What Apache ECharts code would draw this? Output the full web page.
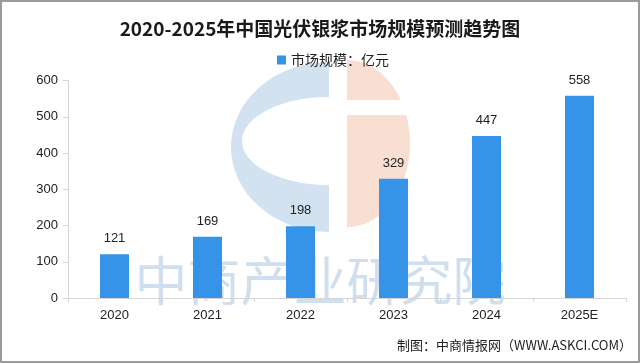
<!DOCTYPE html>
<html>
<head>
<meta charset="utf-8">
<script src="https://cdn.jsdelivr.net/npm/echarts@6/dist/echarts.min.js"></script>
<style>
html,body{margin:0;padding:0;background:#fff;}
#chart{width:640px;height:363px;}
</style>
</head>
<body>
<div id="chart"></div>
<script>
var titleText = '2020-2025年中国光伏银浆市场规模预测趋势图';
var seriesName = '市场规模：亿元';
var categories = ['2020', '2021', '2022', '2023', '2024', '2025E'];
var marketSize = [121, 169, 198, 329, 447, 558];
var yTicks = [0, 100, 200, 300, 400, 500, 600];
var watermarkText = '中商产业研究院';
var sourceText = '制图：中商情报网（WWW.ASKCI.COM）';

var chart = echarts.init(document.getElementById('chart'), null, {renderer: 'canvas'});
var FONT = '"Liberation Sans", "Noto Sans CJK SC", sans-serif';
var CJK = '"Noto Sans CJK SC", sans-serif';
var logoBlue = '#d3e2f0';
var logoOrange = '#f8dfd1';
var PI = Math.PI;

var option = {
  backgroundColor: '#ffffff',
  animation: false,
  title: {
    text: titleText,
    left: 'center',
    top: 14,
    textStyle: {fontFamily: CJK, fontSize: 19, fontWeight: 'bold', color: '#1a1a1a'}
  },
  legend: {
    data: [seriesName],
    left: 272,
    top: 48,
    icon: 'rect',
    itemWidth: 9,
    itemHeight: 9,
    itemGap: 10,
    textStyle: {fontFamily: CJK, fontSize: 14, color: '#222'}
  },
  grid: {left: 68, right: 14, top: 80.5, bottom: 65, containLabel: false},
  xAxis: {
    type: 'category',
    data: categories,
    axisLine: {lineStyle: {color: '#d6d6d6', width: 1}},
    axisTick: {show: true, alignWithLabel: false, length: 4, lineStyle: {color: '#d6d6d6'}},
    axisLabel: {fontFamily: FONT, fontSize: 13, color: '#222', margin: 11}
  },
  yAxis: {
    type: 'value',
    min: yTicks[0],
    max: yTicks[yTicks.length - 1],
    interval: 100,
    axisLine: {show: true, lineStyle: {color: '#d6d6d6', width: 1}},
    axisTick: {show: true, length: 5, lineStyle: {color: '#d6d6d6'}},
    splitLine: {show: false},
    axisLabel: {fontFamily: FONT, fontSize: 13, color: '#222', margin: 10}
  },
  graphic: [
    {type: 'sector', z: -10, position: [329, 147], scaleY: 85 / 98,
      shape: {cx: 0, cy: 0, r: 98, startAngle: PI / 2, endAngle: PI * 3 / 2},
      style: {fill: logoBlue}, silent: true},
    {type: 'sector', z: -9, position: [329, 141], scaleY: 44 / 87,
      shape: {cx: 0, cy: 0, r: 87, startAngle: PI / 2, endAngle: PI * 3 / 2},
      style: {fill: '#ffffff'}, silent: true},
    {type: 'sector', z: -10, position: [347, 143.5], scaleY: 83.5 / 63,
      shape: {cx: 0, cy: 0, r: 63, startAngle: -PI / 2, endAngle: PI / 2},
      style: {fill: logoOrange}, silent: true},
    {type: 'rect', z: -9, shape: {x: 346, y: 100, width: 70, height: 15},
      style: {fill: '#ffffff'}, silent: true},
    {type: 'text', z: -8, left: 'center', top: 254, silent: true,
      style: {text: watermarkText, font: '53px ' + CJK, fill: '#cfdfee', textAlign: 'center'}},
    {type: 'text', right: 8, top: 339, silent: true,
      style: {text: sourceText, font: '13px ' + CJK, fill: '#222'}},
    {type: 'rect', z: 100, silent: true,
      shape: {x: 1, y: 1, width: 638, height: 361},
      style: {fill: 'none', stroke: '#9a9a9a', lineWidth: 2}}
  ],
  series: [{
    name: seriesName,
    type: 'bar',
    data: marketSize,
    barWidth: 29,
    itemStyle: {color: '#3594e8'},
    label: {show: true, position: 'top', distance: 9, fontFamily: FONT, fontSize: 13, color: '#222'}
  }]
};
chart.setOption(option);
</script>
</body>
</html>
